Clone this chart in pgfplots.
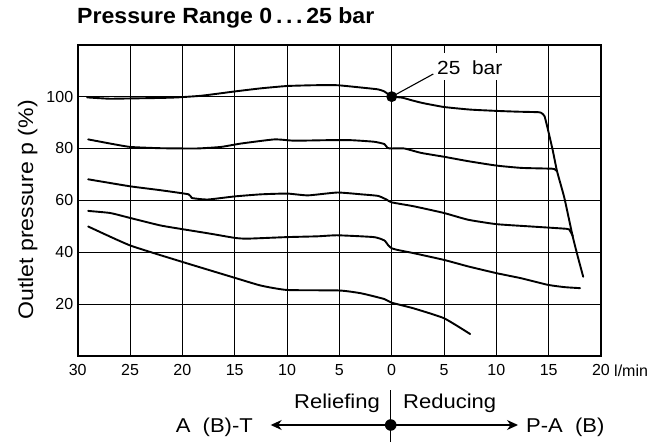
\documentclass[border=0pt]{standalone}
\usepackage{fontspec}
\setmainfont{Liberation Sans}
\newfontfamily\wide[FakeStretch=1.1]{Liberation Sans}
\newfontfamily\wideT[FakeStretch=1.05]{Liberation Sans}
\usepackage{pgfplots}
\pgfplotsset{compat=1.18}
\usetikzlibrary{arrows.meta}
\begin{document}
\begin{tikzpicture}
\begin{axis}[
  at={(77.7pt,86.2pt)}, anchor=south west,
  scale only axis, width=523.3pt, height=311pt,
  xmin=-30, xmax=20, ymin=0, ymax=120,
  xtick={-30,-25,...,20}, xticklabels={30,25,20,15,10,5,0,5,10,15,20},
  ytick={0,20,...,120}, yticklabels={,20,40,60,80,100,},
  grid=major, grid style={black, line width=0.8pt},
  major tick length=0pt,
  axis line style={black, line width=1.6pt},
  ticklabel style={font=\fontsize{16}{19}\selectfont},
  xticklabel style={yshift=-5pt},
  yticklabel style={xshift=-1pt},
  /pgf/number format/assume math mode=true,
  extra x ticks={0}, extra x tick labels={},
  extra x tick style={grid style={black, line width=1.6pt}},
  clip=false,
  every axis plot/.append style={black, line width=1.9pt, line join=round, line cap=round},
]
% 100 % curve
\addplot[smooth, tension=0.3] coordinates {
(-29.1,99.7) (-27,99.2) (-25,99.3) (-22,99.5) (-20.5,99.7) (-18.3,100.3) (-16.5,101.2)
(-15,102) (-12.5,103.2) (-10,104.1) (-7.4,104.4) (-5.2,104.4) (-2.9,103.5) (-1.3,102.8)
(-0.7,102) (-0.3,100.8) (0,100) (1,99.6) (2,98.5) (3,97.5) (5,96) (7.5,95) (10,94.5)
(12,94.2) (14,94) (14.3,93.7) (14.6,92.5) (14.9,87.8) (15.4,79.1) (15.8,71.2) (16.5,60.9)
(17.3,46) (17.8,38) (18.3,30.5)};
% 80 % curve
\addplot[smooth, tension=0.3] coordinates {
(-29,83.5) (-26.9,81.9) (-25,80.6) (-22.1,80.1) (-18.6,80) (-16.3,80.6) (-14.4,81.9)
(-11.2,83.5) (-9.3,83) (-6.1,83.2) (-3.9,83.2) (-1.7,82.6) (-0.7,81.7) (-0.4,80.2) (0,80)
(1.2,80) (2.8,78.3) (5,76.8) (7.3,75.1) (10,73.4) (12.4,72.5) (15.3,72.2) (15.6,71.9) (15.8,71.2)};
% 60 % curve
\addplot[smooth, tension=0.3] coordinates {
(-29,68.1) (-25,65.4) (-22.1,63.9) (-19.4,62.3) (-19.1,60.9) (-17.6,60.3) (-15,61.5)
(-12.5,62.3) (-10,62.6) (-8,61.9) (-5.2,63) (-2.9,62.3) (-1.3,61.7) (-0.5,60.3) (0,59.2)
(2.1,57.7) (5,55.1) (7.3,52.5) (10,50.8) (13.3,49.9) (16.7,49) (17.0,48.5) (17.3,46.2)};
% 40 % curve
\addplot[smooth, tension=0.3] coordinates {
(-29,55.9) (-26.9,55.1) (-25,53.2) (-22.1,50.3) (-19.9,48.8) (-17.3,47.1) (-15,45.5)
(-13.8,45.2) (-10,45.8) (-7.1,46.1) (-5.2,46.5) (-1.7,45.8) (-0.7,44.5) (-0.3,42.5)
(0,41.5) (0.5,40.9) (2.1,39.6) (5,37) (7.3,34.5) (10,31.9) (12.4,29.9) (14.9,27.4)
(16.5,26.5) (18,26.1)};
% 20 % curve
\addplot[smooth, tension=0.3] coordinates {
(-29,49.9) (-25,42.6) (-19.9,36.1) (-15,30.1) (-12.5,27.1) (-10,25.4) (-5,25.2)
(-2.9,24.1) (-0.7,21.9) (0,20.5) (2.1,18.3) (5,14.5) (7.5,8.4)};
% 25 bar point
\addplot[only marks, mark=*, mark size=5pt, line width=0.8pt] coordinates {(0,100)};
\end{axis}
% annotation 25 bar
\fill[white] (434pt,362pt) rectangle (507pt,389pt);
\draw[line width=1.1pt] (390.7pt,344.7pt) -- (433.3pt,368pt);
\node[anchor=base west, inner sep=0pt, font=\wide\fontsize{19}{22}\selectfont] at (437pt,367pt) {25~~bar};
% unit
\node[anchor=base west, inner sep=0pt, font=\fontsize{16}{19}\selectfont] at (614pt,65.3pt) {l/min};
% y label
\node[rotate=90, anchor=base, inner sep=0pt, font=\wide\fontsize{21}{25}\selectfont] at (33pt,232pt) {Outlet pressure p (\%)};
% title
\node[anchor=base west, inner sep=0pt, font=\wideT\bfseries\fontsize{22}{26}\selectfont] at (77pt,418pt) {Pressure Range 0\,.\,.\,.\,25 bar};
% bottom schematic
\draw[line width=1.2pt] (390.7pt,0pt) -- (390.7pt,52pt);
\draw[line width=1.3pt, -{Stealth[length=11pt,width=10pt]}] (390.7pt,17pt) -- (270.7pt,17pt);
\draw[line width=1.3pt, -{Stealth[length=11pt,width=10pt]}] (390.7pt,17pt) -- (518pt,17pt);
\fill (390.7pt,17pt) circle (5.8pt);
\node[anchor=base east, inner sep=0pt, font=\wide\fontsize{20}{24}\selectfont] at (380pt,34pt) {Reliefing};
\node[anchor=base west, inner sep=0pt, font=\wide\fontsize{20}{24}\selectfont] at (403pt,34pt) {Reducing};
\node[anchor=base east, inner sep=0pt, font=\wide\fontsize{20}{24}\selectfont] at (253pt,10pt) {A~~(B)-T};
\node[anchor=base west, inner sep=0pt, font=\wide\fontsize{20}{24}\selectfont] at (526pt,10pt) {P-A~~(B)};
\pgfresetboundingbox
\useasboundingbox (0pt,0pt) rectangle (671pt,442pt);
\end{tikzpicture}
\end{document}
